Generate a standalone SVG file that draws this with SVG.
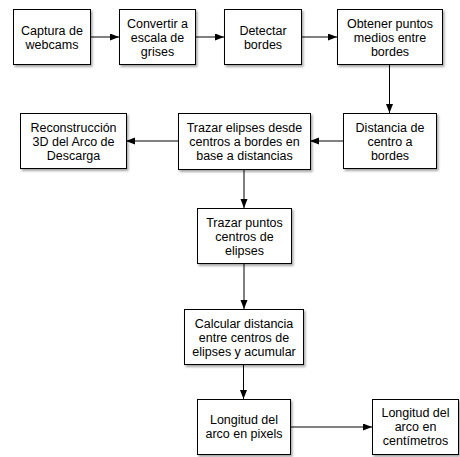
<svg xmlns="http://www.w3.org/2000/svg" width="460" height="457" viewBox="0 0 460 457">
<style>
.box{fill:#fff;stroke:#000;stroke-width:1;filter:url(#sh)}
.t{font-family:"Liberation Sans",Arial,sans-serif;font-size:12.5px;fill:#000;text-anchor:middle}
.c{stroke:#000;stroke-width:1;fill:none;marker-end:url(#ah)}
</style>
<defs>
<filter id="sh" x="-10%" y="-10%" width="130%" height="130%">
<feDropShadow dx="1.5" dy="2" stdDeviation="1.2" flood-color="#000" flood-opacity="0.35"/>
</filter>
<marker id="ah" markerUnits="userSpaceOnUse" markerWidth="10" markerHeight="8" refX="9" refY="3.5" orient="auto">
<path d="M0,0 L9,3.5 L0,7 z" fill="#000"/>
</marker>
</defs>
<g id="connectors">
<line class="c" x1="90" y1="37" x2="119" y2="37"/>
<line class="c" x1="195" y1="37" x2="224" y2="37"/>
<line class="c" x1="301" y1="37" x2="337" y2="37"/>
<line class="c" x1="389.5" y1="65" x2="389.5" y2="113"/>
<line class="c" x1="343" y1="141" x2="310" y2="141"/>
<line class="c" x1="178" y1="141" x2="126" y2="141"/>
<line class="c" x1="244" y1="169" x2="244" y2="208"/>
<line class="c" x1="244" y1="264" x2="244" y2="309"/>
<line class="c" x1="243.5" y1="365" x2="243.5" y2="399"/>
<line class="c" x1="290" y1="427" x2="372" y2="427"/>
</g>
<g id="n1"><rect class="box" x="13.5" y="9.5" width="77" height="55"/>
<text class="t" x="52" y="34.5">Captura de</text><text class="t" x="52" y="48.5">webcams</text></g>
<g id="n2"><rect class="box" x="119.5" y="9.5" width="76" height="55"/>
<text class="t" x="157.5" y="27.5">Convertir a</text><text class="t" x="157.5" y="41.5">escala de</text><text class="t" x="157.5" y="55.5">grises</text></g>
<g id="n3"><rect class="box" x="224.5" y="9.5" width="77" height="55"/>
<text class="t" x="263" y="34.5">Detectar</text><text class="t" x="263" y="48.5">bordes</text></g>
<g id="n4"><rect class="box" x="337.5" y="9.5" width="105" height="55"/>
<text class="t" x="390" y="27.5">Obtener puntos</text><text class="t" x="390" y="41.5">medios entre</text><text class="t" x="390" y="55.5">bordes</text></g>
<g id="n5"><rect class="box" x="20.5" y="113.5" width="106" height="55"/>
<text class="t" x="73.5" y="131.5">Reconstrucción</text><text class="t" x="73.5" y="145.5">3D del Arco de</text><text class="t" x="73.5" y="159.5">Descarga</text></g>
<g id="n6"><rect class="box" x="178.5" y="113.5" width="132" height="56"/>
<text class="t" x="244.5" y="131.5">Trazar elipses desde</text><text class="t" x="244.5" y="145.5">centros a bordes en</text><text class="t" x="244.5" y="159.5">base a distancias</text></g>
<g id="n7"><rect class="box" x="343.5" y="113.5" width="93" height="55"/>
<text class="t" x="390" y="131.5">Distancia de</text><text class="t" x="390" y="145.5">centro a</text><text class="t" x="390" y="159.5">bordes</text></g>
<g id="n8"><rect class="box" x="197.5" y="208.5" width="94" height="55"/>
<text class="t" x="244.5" y="226.5">Trazar puntos</text><text class="t" x="244.5" y="240.5">centros de</text><text class="t" x="244.5" y="254.5">elipses</text></g>
<g id="n9"><rect class="box" x="184.5" y="309.5" width="119" height="55"/>
<text class="t" x="244" y="327.5">Calcular distancia</text><text class="t" x="244" y="341.5">entre centros de</text><text class="t" x="244" y="355.5">elipses y acumular</text></g>
<g id="n10"><rect class="box" x="197.5" y="399.5" width="93" height="55"/>
<text class="t" x="244" y="424">Longitud del</text><text class="t" x="244" y="438">arco en pixels</text></g>
<g id="n11"><rect class="box" x="372.5" y="399.5" width="86" height="55"/>
<text class="t" x="415.5" y="417">Longitud del</text><text class="t" x="415.5" y="431">arco en</text><text class="t" x="415.5" y="445">centímetros</text></g>
</svg>
